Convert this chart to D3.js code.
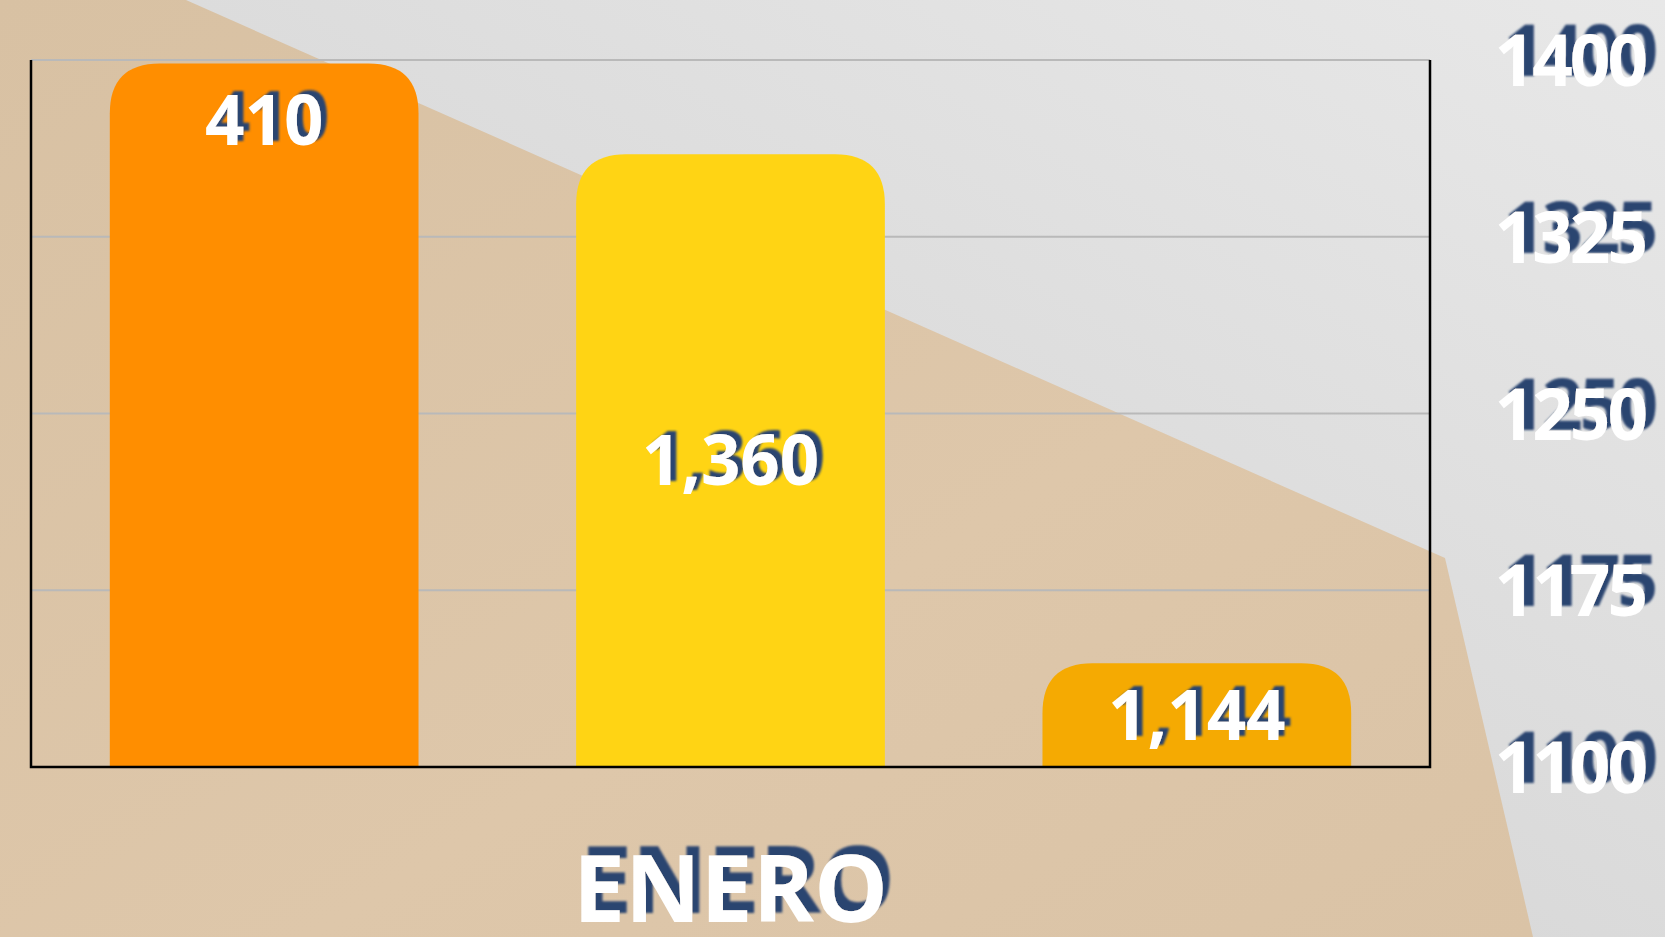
<!DOCTYPE html>
<html><head><meta charset="utf-8">
<script src="https://cdn.jsdelivr.net/npm/d3@7"></script>
<style>
html,body{margin:0;padding:0;overflow:hidden;background:#d8d8d8;}
svg{display:block;font-family:"Open Sans",sans-serif;}
</style></head>
<body>
<svg id="chart" width="1665" height="937"></svg>
<script>
// ---- data ----
const categories = ["ENERO"];
const seriesNames = ["Serie 1", "Serie 2", "Serie 3"];
const seriesValues = [410, 1360, 1144];
const seriesColors = ["#FF8E00", "#FFD414", "#F5AA02"];
const tickValues = [1100, 1175, 1250, 1325, 1400];
const secondaryDomain = [0, 412];

const W = 1665, H = 937;
const m = {left: 31, right: 235, top: 60, bottom: 170};
const pw = W - m.left - m.right, ph = H - m.top - m.bottom;

const svg = d3.select("#chart");
const defs = svg.append("defs");

// background gradient
const bg = defs.append("linearGradient").attr("id","bg").attr("x1","1").attr("y1","0").attr("x2","0").attr("y2","1");
bg.append("stop").attr("offset","0%").attr("stop-color","#e8e8e8");
bg.append("stop").attr("offset","100%").attr("stop-color","#cdcdcd");
const bz = defs.append("linearGradient").attr("id","beige").attr("x1","0").attr("y1","0").attr("x2","1").attr("y2","1");
bz.append("stop").attr("offset","0%").attr("stop-color","#d8c1a3");
bz.append("stop").attr("offset","60%").attr("stop-color","#dec7aa");
bz.append("stop").attr("offset","100%").attr("stop-color","#dac3a6");

function shadowFilter(id, dx, dy, blur){
  const f = defs.append("filter").attr("id", id).attr("x","-20%").attr("y","-40%").attr("width","140%").attr("height","180%");
  f.append("feFlood").attr("flood-color","#2B4470").attr("result","c");
  f.append("feComposite").attr("in","c").attr("in2","SourceAlpha").attr("operator","in").attr("result","s");
  f.append("feOffset").attr("in","s").attr("dx",dx).attr("dy",dy).attr("result","o");
  f.append("feGaussianBlur").attr("in","o").attr("stdDeviation",blur).attr("result","b");
  const mg = f.append("feMerge");
  mg.append("feMergeNode").attr("in","b");
  mg.append("feMergeNode").attr("in","SourceGraphic");
}
shadowFilter("shAxis", 10, -10, 1.3);
shadowFilter("shData", 6, -4, 1.2);
shadowFilter("shCat", 7, -9, 1.2);

svg.append("rect").attr("width",W).attr("height",H).attr("fill","url(#bg)");
svg.append("path").attr("d","M0,0 L186,0 L1445,558 L1533,937 L0,937 Z").attr("fill","url(#beige)");

const g = svg.append("g").attr("transform",`translate(${m.left},${m.top})`);

const x = d3.scaleBand().domain(seriesNames).range([0,pw]).paddingInner(0.338).paddingOuter(0.169);
const y = d3.scaleLinear().domain([tickValues[0], tickValues[tickValues.length-1]]).range([ph,0]);
const y2 = d3.scaleLinear().domain(secondaryDomain).range([ph,0]);

// gridlines
g.selectAll("line.grid").data(tickValues).join("line").attr("class","grid")
  .attr("x1",0).attr("x2",pw).attr("y1",d=>y(d)).attr("y2",d=>y(d))
  .attr("stroke","#b9b9b9").attr("stroke-width",2);

// bars
function topRounded(x0, y0, w, h, r){
  r = Math.min(r, w/2, h);
  return `M${x0},${y0+h} L${x0},${y0+r} Q${x0},${y0} ${x0+r},${y0} L${x0+w-r},${y0} Q${x0+w},${y0} ${x0+w},${y0+r} L${x0+w},${y0+h} Z`;
}
const bars = seriesNames.map((s,i)=>({name:s, value:seriesValues[i], color:seriesColors[i], scale: i===0 ? y2 : y}));
g.selectAll("path.bar").data(bars).join("path").attr("class","bar")
  .attr("d", d => { const yt = d.scale(d.value); return topRounded(x(d.name), yt, x.bandwidth(), ph - yt, 50); })
  .attr("fill", d=>d.color);

// axis frame (left, bottom, right)
g.append("path").attr("d",`M0,0 L0,${ph} L${pw},${ph} L${pw},0`).attr("fill","none").attr("stroke","#000").attr("stroke-width",2.5);

// data labels
const fmt = d3.format(",");
g.selectAll("text.lbl").data(bars).join("text").attr("class","lbl")
  .attr("x", d => x(d.name) + x.bandwidth()/2)
  .attr("y", (d,i) => { const yt = d.scale(d.value); return i===0 ? yt + 57 : (yt + ph)/2; })
  .attr("dy","0.36em")
  .attr("text-anchor","middle")
  .attr("fill","#fff").attr("font-weight",700).attr("font-size",69)
  .attr("filter","url(#shData)")
  .text(d => fmt(d.value));

// right axis
const axis = d3.axisRight(y).tickValues(tickValues).tickSize(0).tickPadding(215).tickFormat(d3.format("d"));
const ag = g.append("g").attr("transform",`translate(${pw},0)`).call(axis);
ag.select(".domain").remove();
ag.selectAll("text").attr("text-anchor","end").attr("fill","#fff")
  .attr("font-family","'Open Sans',sans-serif").attr("font-weight",700).attr("font-size",71)
  .attr("letter-spacing","-3").attr("dy","0.36em").attr("filter","url(#shAxis)");

// category label
g.selectAll("text.cat").data(categories).join("text").attr("class","cat")
  .attr("x", pw/2).attr("y", 922 - m.top)
  .attr("text-anchor","middle").attr("fill","#fff").attr("font-weight",700).attr("font-size",93)
  .attr("filter","url(#shCat)")
  .text(d=>d);
</script>
</body></html>
